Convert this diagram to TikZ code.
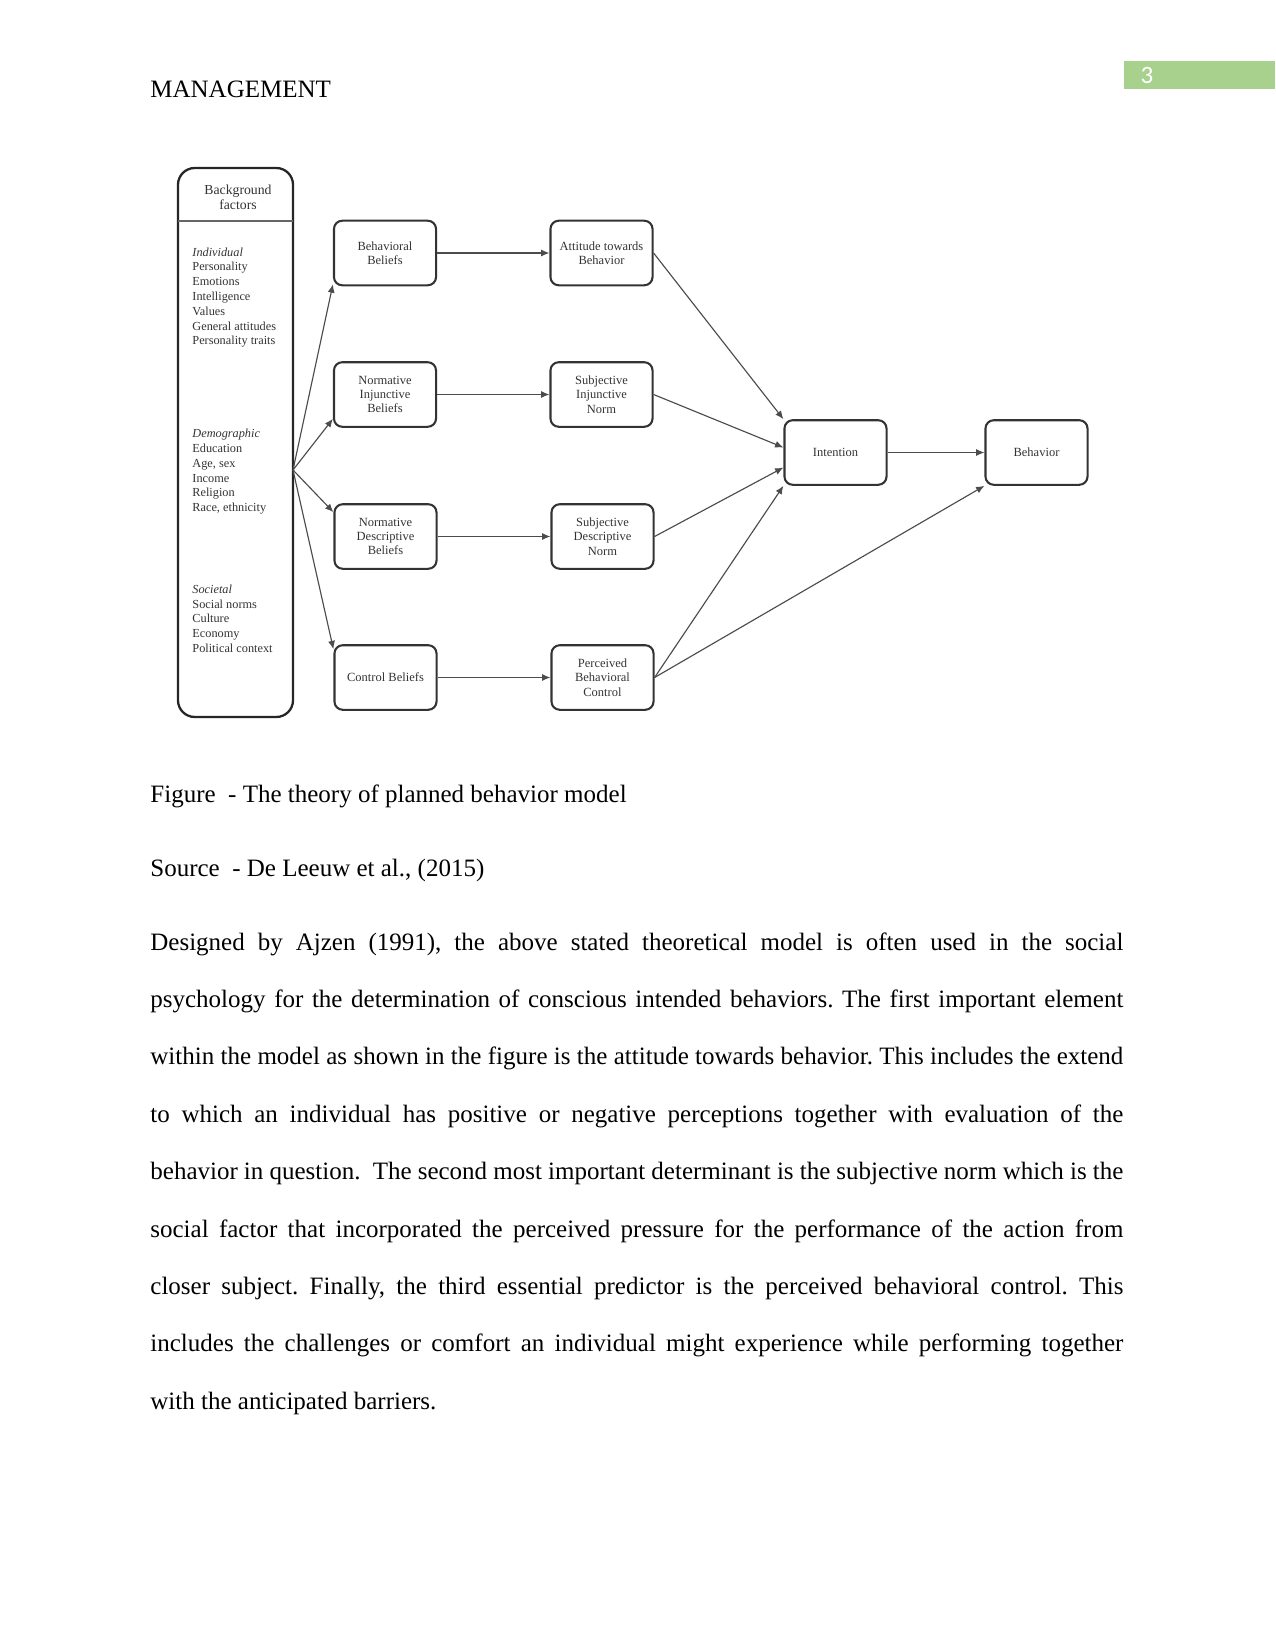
\documentclass[tikz,border=0pt]{standalone}
\usepackage{fontspec}
\setmainfont{Liberation Serif}
\newfontfamily\numfont{Carlito}
\usetikzlibrary{arrows.meta,calc}
\definecolor{hdrgreen}{HTML}{A9D18E}
\newcommand\jline[1]{\makebox[467pt][s]{#1}}
\frenchspacing
\begin{document}
\begin{tikzpicture}[x=0.48pt,y=-0.48pt,
  box/.style={draw=black!80, line width=1pt, rounded corners=4pt, minimum width=49pt, minimum height=31pt, inner sep=0pt, align=center, font=\fontsize{6}{6.9}\selectfont, text=black!80},
  conn/.style={draw=black!70, line width=0.55pt, -{Latex[length=4pt,width=3.4pt]}},
  bodytext/.style={font=\fontsize{12}{14}\selectfont, inner sep=0pt, anchor=base west},
  bgtext/.style={font=\fontsize{5.9}{7.1}\selectfont, align=left, text=black!80, inner sep=0pt, anchor=west}
]
\useasboundingbox (0,0) rectangle (1275,1651);
% header
\fill[hdrgreen] (1124,61) rectangle (1275,89);
\node[font=\numfont\fontsize{12}{14}\selectfont, text=white, inner sep=0pt] (pg) at (1147,75) {3};
\node[bodytext] (hdr) at (150,97.5) {MANAGEMENT};
% background factors box
\node[draw=black!85, line width=1.1pt, rounded corners=8pt, minimum width=55.2pt, minimum height=263.5pt, inner sep=0pt] (bgbox) at (235.5,442.5) {};
\draw[black!60, line width=0.6pt] (178,221) -- (293,221);
\node[bgtext, anchor=center, align=center, font=\fontsize{6.6}{7.1}\selectfont] (bgtitle) at (238,197) {Background\\factors};
\node[bgtext] (ind) at (192,297.5) {\textit{Individual}\\Personality\\Emotions\\Intelligence\\Values\\General attitudes\\Personality traits};
\node[bgtext] (dem) at (192,471.7) {\textit{Demographic}\\Education\\Age, sex\\Income\\Religion\\Race, ethnicity};
\node[bgtext] (soc) at (192,618.6) {\textit{Societal}\\Social norms\\Culture\\Economy\\Political context};
% boxes
\node[box] (bb) at (385,253) {Behavioral\\Beliefs};
\node[box] (nib) at (385,394.5) {Normative\\Injunctive\\Beliefs};
\node[box] (ndb) at (385.5,536.5) {Normative\\Descriptive\\Beliefs};
\node[box] (cb) at (385.5,677.5) {Control Beliefs};
\node[box] (att) at (601.5,253) {Attitude towards\\Behavior};
\node[box] (sin) at (601.5,394.5) {Subjective\\Injunctive\\Norm};
\node[box] (sdn) at (602.5,536.5) {Subjective\\Descriptive\\Norm};
\node[box] (pbc) at (602.5,677.5) {Perceived\\Behavioral\\Control};
\node[box] (int) at (835.5,452.5) {Intention};
\node[box] (beh) at (1036.5,452.5) {Behavior};
% fan
\coordinate (fo) at (293,470);
\draw[conn] (fo) -- ($(bb.south west)+(0,-2)$);
\draw[conn] (fo) -- ($(nib.south west)+(0,-9)$);
\draw[conn] (fo) -- ($(ndb.north west)+(0,9)$);
\draw[conn] (fo) -- ($(cb.north west)+(0,5)$);
% rows
\draw[conn] (bb) -- (att);
\draw[conn] (nib) -- (sin);
\draw[conn] (ndb) -- (sdn);
\draw[conn] (cb) -- (pbc);
% into intention
\draw[conn] (att.east) -- (int.north west);
\draw[conn] (sin.east) -- ($(int.west)+(0,-5)$);
\draw[conn] (sdn.east) -- ($(int.west)+(0,15)$);
\draw[conn] (pbc.east) -- (int.south west);
\draw[conn] (pbc.east) -- (beh.south west);
\draw[conn] (int) -- (beh);
% captions
\node[bodytext] (cap) at (150,802) {Figure~ - The theory of planned behavior model};
\node[bodytext] (src) at (150,876) {Source~ - De Leeuw et al., (2015)};
% paragraph
\node[bodytext] (p1) at (150,950) {\jline{Designed by Ajzen (1991), the above stated theoretical model is often used in the social}};
\node[bodytext] (p2) at (150,1007.4) {\jline{psychology for the determination of conscious intended behaviors. The first important element}};
\node[bodytext] (p3) at (150,1064.8) {\jline{within the model as shown in the figure is the attitude towards behavior. This includes the extend}};
\node[bodytext] (p4) at (150,1122.2) {\jline{to which an individual has positive or negative perceptions together with evaluation of the}};
\node[bodytext] (p5) at (150,1179.6) {\jline{behavior in question.~ The second most important determinant is the subjective norm which is the}};
\node[bodytext] (p6) at (150,1237) {\jline{social factor that incorporated the perceived pressure for the performance of the action from}};
\node[bodytext] (p7) at (150,1294.4) {\jline{closer subject. Finally, the third essential predictor is the perceived behavioral control. This}};
\node[bodytext] (p8) at (150,1351.8) {\jline{includes the challenges or comfort an individual might experience while performing together}};
\node[bodytext] (p9) at (150,1409.2) {with the anticipated barriers.};
\end{tikzpicture}
\end{document}
